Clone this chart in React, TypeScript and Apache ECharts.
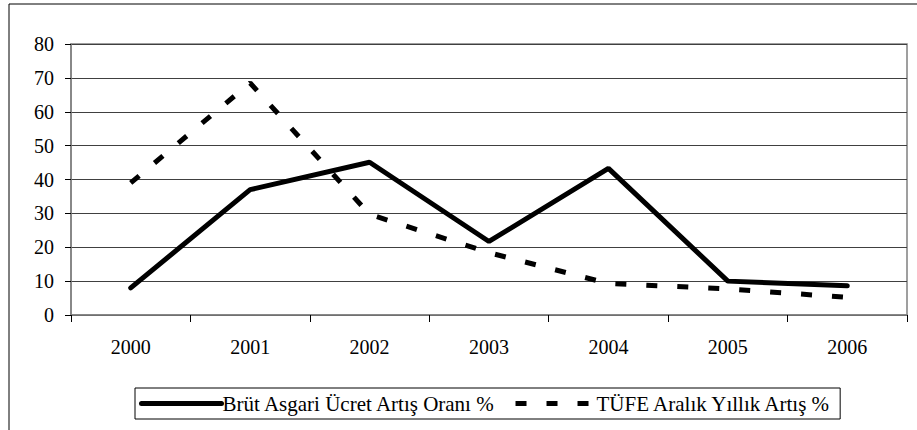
import React, { useEffect, useRef } from "react";
import * as echarts from "echarts";

const years = ["2000", "2001", "2002", "2003", "2004", "2005", "2006"];
const brutAsgari = [8, 37, 45.1, 21.7, 43.3, 10, 8.6];
const tufe = [39, 68.5, 29.7, 18.4, 9.3, 7.7, 5.2];
const seriesNames = ["Brüt Asgari Ücret Artış Oranı %", "TÜFE Aralık Yıllık Artış %"];

const FONT = "Liberation Serif";
const FS = 20;

export default function App() {
  const ref = useRef<HTMLDivElement>(null);
  useEffect(() => {
    if (!ref.current) return;
    const chart = echarts.init(ref.current, undefined, { renderer: "svg" });
    chart.setOption({
      animation: false,
      backgroundColor: "#fff",
      textStyle: { fontFamily: FONT, color: "#000" },
      graphic: [
        {
          type: "rect",
          shape: { x: 9, y: 4, width: 1200, height: 1000 },
          style: { fill: "none", stroke: "#000", lineWidth: 1 },
          silent: true,
          z: -10,
        },
      ],
      grid: { left: 71, right: 10, top: 44, bottom: 115, show: true, borderColor: "#808080", borderWidth: 1.5 },
      legend: {
        left: 135,
        top: 388,
        padding: [5, 8, 5, 4],
        itemWidth: 80,
        itemHeight: 14,
        itemGap: 17,
        backgroundColor: "#fff",
        borderColor: "#000",
        borderWidth: 1,
        itemStyle: { opacity: 0 },
        lineStyle: { width: 5 },
        textStyle: { fontFamily: FONT, fontSize: 21, color: "#000", padding: [0, 0, 0, -4] },
        data: seriesNames,
      },
      xAxis: {
        type: "category",
        data: years,
        boundaryGap: true,
        axisLine: { lineStyle: { color: "#808080", width: 1.5 } },
        axisTick: { show: true, length: 7, lineStyle: { color: "#000" } },
        axisLabel: { fontFamily: FONT, fontSize: FS, color: "#000", margin: 22 },
        splitLine: { show: false },
      },
      yAxis: {
        type: "value",
        min: 0,
        max: 80,
        interval: 10,
        axisLine: { show: true, lineStyle: { color: "#808080", width: 1.5 } },
        axisTick: { show: true, length: 6, lineStyle: { color: "#000" } },
        axisLabel: { fontFamily: FONT, fontSize: FS, color: "#000", margin: 17 },
        splitLine: { show: true, lineStyle: { color: "#404040", width: 1 } },
      },
      series: [
        {
          name: seriesNames[0],
          type: "line",
          data: brutAsgari,
          symbol: "none",
          lineStyle: { color: "#000", width: 5, type: "solid", cap: "round" },
          itemStyle: { color: "#000" },
        },
        {
          name: seriesNames[1],
          type: "line",
          data: tufe,
          symbol: "none",
          lineStyle: { color: "#000", width: 5, type: [11, 20], cap: "butt" },
          itemStyle: { color: "#000" },
        },
      ],
    });
    return () => chart.dispose();
  }, []);
  return (
    <div
      ref={ref}
      style={{ position: "absolute", left: 0, top: 0, width: 917, height: 430 }}
    />
  );
}
